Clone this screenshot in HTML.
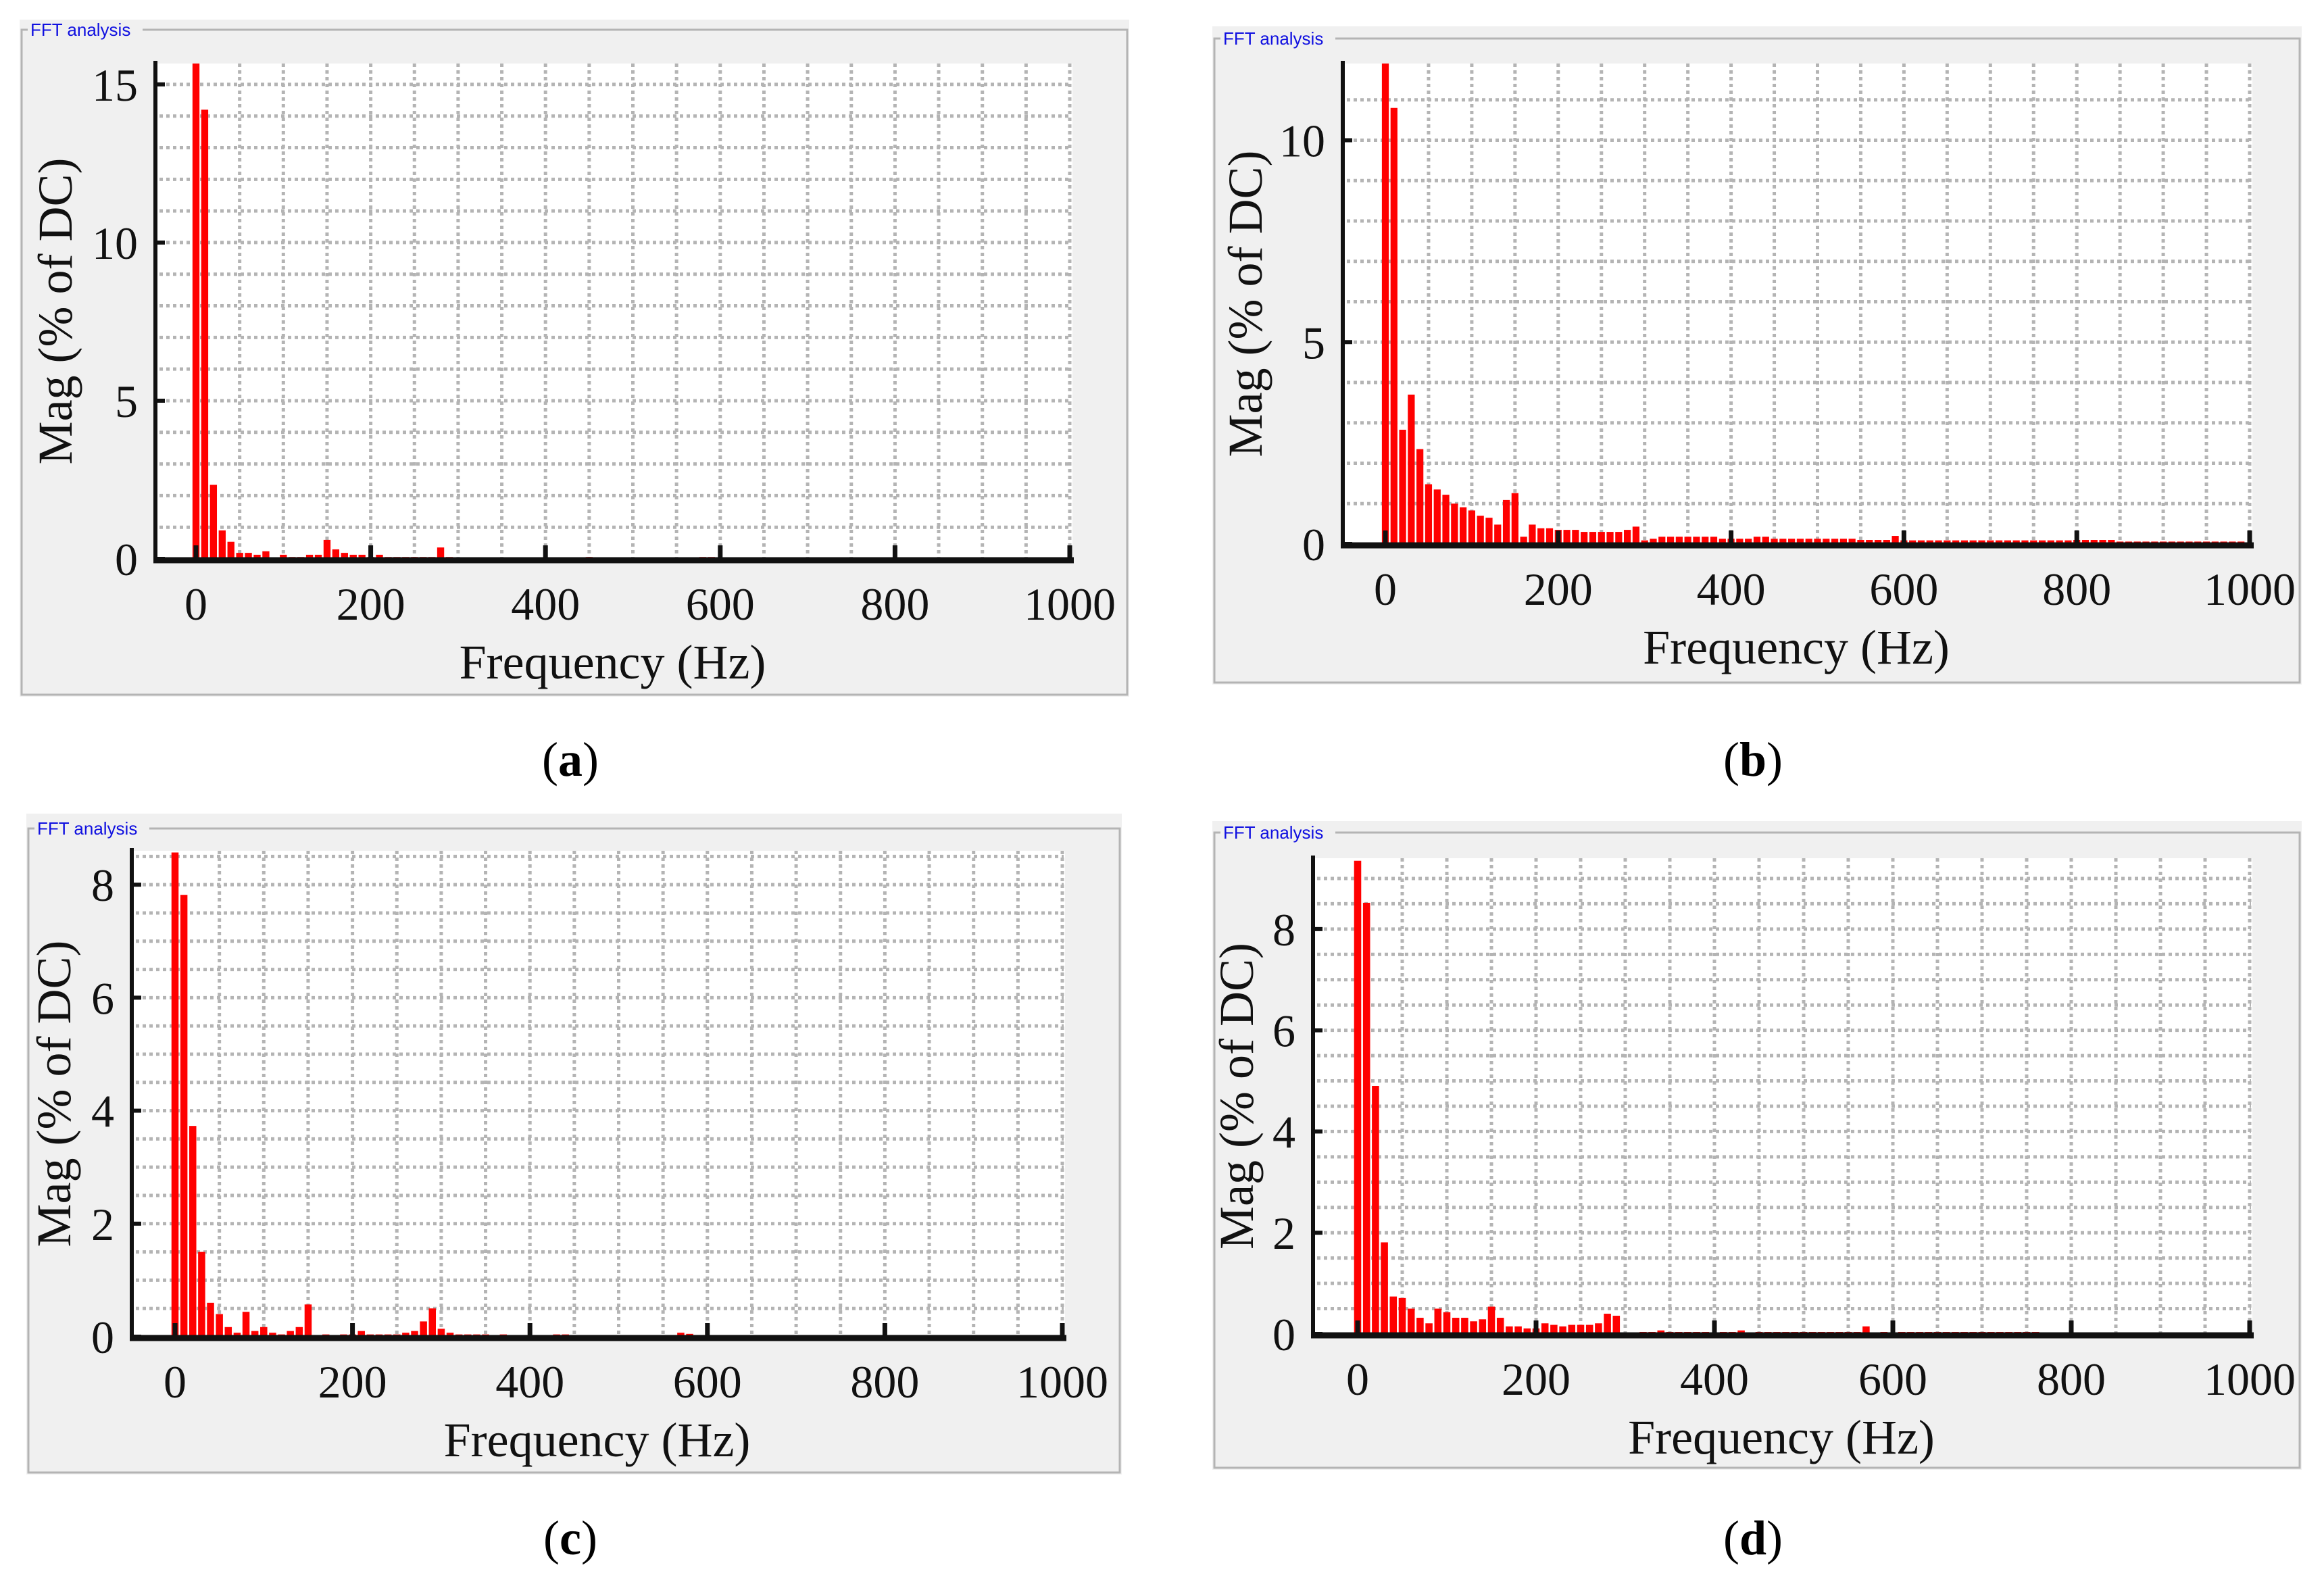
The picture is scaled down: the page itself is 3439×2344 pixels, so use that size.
<!DOCTYPE html>
<html><head><meta charset="utf-8"><style>
html,body{margin:0;padding:0;background:#fff;}
svg{display:block;}
text{font-family:"Liberation Serif",serif;}
</style></head><body>
<svg id="fig" xmlns="http://www.w3.org/2000/svg" width="3439" height="2344" viewBox="0 0 3439 2344"></svg>
<script>
// Shared frequency categories (Hz)
const freqBins = [0,10,20,30,40,50,60,70,80,90,100,110,120,130,140,150,160,170,180,190,200,210,220,230,240,250,260,270,280,290,300,310,320,330,340,350,360,370,380,390,400,410,420,430,440,450,460,470,480,490,500,510,520,530,540,550,560,570,580,590,600,610,620,630,640,650,660,670,680,690,700,710,720,730,740,750,760,770,780,790,800,810,820,830,840,850,860,870,880,890,900,910,920,930,940,950,960,970,980,990,1000];
const xTickLabels = [0,200,400,600,800,1000];

// Series values (% of DC)
const magA = [15.7,14.2,2.34,0.9,0.54,0.19,0.19,0.13,0.24,0,0.13,0.06,0.06,0.13,0.13,0.6,0.3,0.19,0.13,0.13,0.06,0.13,0.06,0.06,0.06,0.06,0.06,0.06,0.36,0.06,0.04,0,0,0,0,0,0,0,0,0,0,0,0,0,0,0.06,0,0,0,0,0,0,0,0,0,0,0,0,0.06,0.06,0,0,0,0,0,0,0,0,0,0,0,0,0,0,0,0,0,0,0,0,0,0,0,0,0,0,0,0,0,0,0,0,0,0,0,0,0,0,0,0,0];
const magB = [11.9,10.8,2.83,3.7,2.35,1.48,1.35,1.22,1.0,0.91,0.83,0.7,0.65,0.48,1.09,1.26,0.18,0.48,0.39,0.39,0.35,0.35,0.35,0.3,0.3,0.3,0.3,0.3,0.35,0.43,0.09,0.13,0.18,0.18,0.18,0.18,0.18,0.18,0.18,0.13,0.13,0.13,0.13,0.18,0.18,0.13,0.13,0.13,0.13,0.13,0.13,0.13,0.13,0.13,0.13,0.1,0.1,0.1,0.1,0.2,0.09,0.09,0.09,0.09,0.09,0.09,0.09,0.09,0.09,0.09,0.09,0.09,0.09,0.09,0.09,0.09,0.09,0.09,0.09,0.09,0.1,0.1,0.1,0.1,0.1,0.06,0.06,0.06,0.06,0.06,0.06,0.06,0.06,0.06,0.06,0.06,0.06,0.06,0.06,0.06,0];
const magC = [8.57,7.82,3.73,1.5,0.6,0.4,0.17,0.07,0.44,0.1,0.17,0.07,0.04,0.1,0.17,0.57,0,0.04,0,0.04,0.04,0.1,0.04,0.04,0.04,0.04,0.07,0.1,0.27,0.5,0.14,0.07,0.04,0.04,0.04,0.04,0,0.04,0,0,0,0,0,0.04,0.04,0,0,0,0,0,0,0,0,0,0,0,0,0.07,0.05,0,0,0,0,0,0,0,0,0,0,0,0,0,0,0,0,0,0,0,0,0,0,0,0,0,0,0,0,0,0,0,0,0,0,0,0,0,0,0,0,0,0];
const magD = [9.35,8.52,4.9,1.81,0.74,0.71,0.5,0.32,0.21,0.5,0.43,0.32,0.32,0.25,0.29,0.54,0.32,0.15,0.15,0.11,0.11,0.21,0.18,0.15,0.18,0.18,0.18,0.21,0.4,0.36,0,0,0.04,0.04,0.07,0.04,0.04,0.04,0.04,0.04,0,0.04,0.04,0.07,0,0.04,0.04,0.04,0.04,0.04,0.04,0.04,0.04,0.04,0.04,0.04,0.04,0.15,0,0.04,0,0.04,0.04,0.04,0.04,0.04,0.04,0.04,0.04,0.04,0.04,0.04,0.04,0.04,0.04,0.04,0.04,0,0,0,0,0,0,0,0,0,0,0,0,0,0,0,0,0,0,0,0,0,0,0,0];

// Y tick labels per panel
const yTicksA = [0,5,10,15];
const yTicksB = [0,5,10];
const yTicksC = [0,2,4,6,8];
const yTicksD = [0,2,4,6,8];

const NS = "http://www.w3.org/2000/svg";
const svg = document.getElementById('fig');
function mk(tag, attrs, parent){
  const e = document.createElementNS(NS, tag);
  for (const k in attrs) e.setAttribute(k, attrs[k]);
  (parent||svg).appendChild(e);
  return e;
}

const panels = [
  {id:'a', ox:29, oy:29, ow:1642, oh:1002, fy:44, x0:290, x1:1583, left:230, y0:827, top:94, ymax:15.66, gstep:1, vals:magA, ticks:yTicksA, cap:[844,1148], ytx:82},
  {id:'b', ox:1794, oy:39, ow:1612, oh:974, fy:57, x0:2050, x1:3329, left:1987, y0:805, top:94, ymax:11.9, gstep:1, vals:magB, ticks:yTicksB, cap:[2594,1148], ytx:1843},
  {id:'c', ox:39, oy:1204, ow:1621, oh:978, fy:1226, x0:259, x1:1572, left:195, y0:1978, top:1259, ymax:8.6, gstep:0.5, vals:magC, ticks:yTicksC, cap:[844,2300], ytx:80},
  {id:'d', ox:1794, oy:1215, ow:1612, oh:960, fy:1232, x0:2009, x1:3329, left:1943, y0:1974, top:1270, ymax:9.4, gstep:0.5, vals:magD, ticks:yTicksD, cap:[2594,2300], ytx:1830}
];

panels.forEach(p => {
  const g = mk('g', {});
  
  
  const xs = f => p.x0 + (p.x1 - p.x0) * f / 1000;
  const ys = v => p.y0 - (p.y0 - p.top) * Math.min(v, p.ymax) / p.ymax;

  const bg = mk('rect', {x:p.ox, y:p.oy, width:p.ow, height:p.oh, fill:'#f0f0f0'}, g);
  
  
  const frame = mk('rect', {x:p.ox+3, y:p.fy, width:p.ow-6, height:p.oy+p.oh-p.fy-3, fill:'none', stroke:'#b4b4b4', 'stroke-width':3}, g);
  
  
  mk('rect', {x:p.ox+12, y:p.fy-14, width:170, height:28, fill:'#f0f0f0'}, g);
  const ttl = mk('text', {x:p.ox+16, y:p.fy+9, fill:'#1010e0', 'font-size':26, style:'font-family:"Liberation Sans",sans-serif'}, g);
  ttl.textContent = 'FFT analysis';
  
  

  const plot = mk('rect', {x:p.left, y:p.top, width:p.x1 - p.left + 4, height:p.y0 - p.top, fill:'#fff'}, g);
  
  

  // grid
  const grid = mk('g', {stroke:'#b4b4b4', 'stroke-width':5, 'stroke-dasharray':'5 5'}, g);
  
  
  for (let v = p.gstep; v <= p.ymax; v += p.gstep) {
    mk('line', {x1:p.left+6, x2:p.x1+2, y1:ys(v), y2:ys(v)}, grid);
  }
  for (let f = 50; f <= 1000; f += 50) {
    mk('line', {x1:xs(f), x2:xs(f), y1:p.top, y2:p.y0}, grid);
  }

  // bars
  const bars = mk('g', {fill:'#ff0000'}, g);
  
  
  const bw = (p.x1 - p.x0) * 8 / 1000;
  p.vals.forEach((v, i) => {
    if (v <= 0) return;
    const r = mk('rect', {x:xs(freqBins[i]) - bw/2, y:ys(v), width:bw, height:p.y0 - ys(v)}, bars);
    
    
  });

  // axes
  const ax = mk('g', {stroke:'#111'}, g);
  
  
  mk('line', {x1:p.left, x2:p.left, y1:p.top-4, y2:p.y0+4, 'stroke-width':6}, ax);
  mk('line', {x1:p.left-3, x2:p.x1+6, y1:p.y0+2, y2:p.y0+2, 'stroke-width':9}, ax);
  xTickLabels.forEach(t => {
    mk('line', {x1:xs(t), x2:xs(t), y1:p.y0, y2:p.y0-20, 'stroke-width':7}, ax);
    const lb = mk('text', {x:xs(t), y:p.y0+90, 'text-anchor':'middle', 'font-size':68, fill:'#111'}, g);
    lb.textContent = t;
    
    
  });
  p.ticks.forEach(t => {
    mk('line', {x1:p.left, x2:p.left+14, y1:ys(t), y2:ys(t), 'stroke-width':6}, ax);
    const lb = mk('text', {x:p.left-26, y:ys(t)+24, 'text-anchor':'end', 'font-size':68, fill:'#111'}, g);
    lb.textContent = t;
    
    
  });

  const xt = mk('text', {x:(p.left+p.x1)/2, y:p.y0+177, 'text-anchor':'middle', 'font-size':72, fill:'#111'}, g);
  xt.textContent = 'Frequency (Hz)';
  
  
  const cy = (p.top + p.y0) / 2;
  const yx = p.ytx + 24;
  const yt = mk('text', {x:yx, y:cy, 'text-anchor':'middle', 'font-size':72, fill:'#111', transform:'rotate(-90 ' + yx + ' ' + cy + ')'}, g);
  yt.textContent = 'Mag (% of DC)';
  
  

  const cap = mk('text', {x:p.cap[0], y:p.cap[1], 'text-anchor':'middle', 'font-size':72, fill:'#000'}, g);
  cap.innerHTML = '(<tspan font-weight="bold">' + p.id + '</tspan>)';
  
  
});
</script>
</body></html>
